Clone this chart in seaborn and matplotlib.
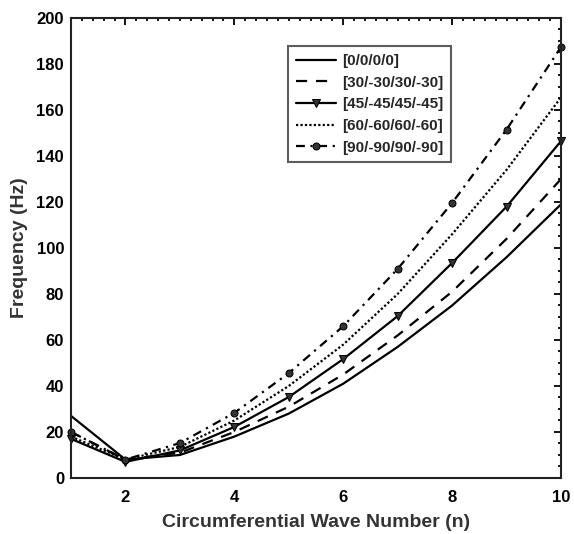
import matplotlib
matplotlib.use("Agg")
import matplotlib.pyplot as plt
import seaborn as sns
import pandas as pd
from matplotlib.ticker import MultipleLocator

n = [1, 2, 3, 4, 5, 6, 7, 8, 9, 10]
labels = ["[0/0/0/0]", "[30/-30/30/-30]", "[45/-45/45/-45]", "[60/-60/60/-60]", "[90/-90/90/-90]"]
f0 = [27, 8, 10, 18, 28, 41, 57, 75, 96, 119]
f30 = [20, 8, 11, 20, 31, 45, 62, 81, 104, 130]
f45 = [17, 7, 12, 22.2, 35.2, 51.7, 70.4, 93.5, 118, 146.5]
f60 = [18, 8, 13.5, 25, 40, 58, 80, 106, 134, 165.5]
f90 = [20, 8, 15.2, 28.3, 45.6, 66, 90.9, 119.6, 151.5, 187.4]

series = [f0, f30, f45, f60, f90]
styles = [
    dict(linestyle="-", marker=None),
    dict(linestyle=(0, (5, 4)), marker=None),
    dict(linestyle="-", marker="v", markersize=6),
    dict(linestyle=(0, (1, 1)), marker=None),
    dict(linestyle=(0, (4, 2.5, 1, 2.5)), marker="o", markersize=5),
]

sns.set_style("white")
plt.rcParams["font.family"] = ["Liberation Sans", "DejaVu Sans"]
plt.rcParams["font.weight"] = "bold"

fig = plt.figure(figsize=(5.74, 5.34), dpi=100)
ax = fig.add_axes([0.1237, 0.1049, 0.8537, 0.8614])

for lab, vals, st in zip(labels, series, styles):
    df = pd.DataFrame({"n": n, "f": vals})
    kw = dict(color="black", linewidth=1.6, linestyle=st["linestyle"], clip_on=False)
    if st["marker"]:
        kw.update(marker=st["marker"], markersize=st["markersize"],
                  markerfacecolor="#333333", markeredgecolor="black")
    sns.lineplot(data=df, x="n", y="f", ax=ax, label=lab, **kw)

ax.set_xlim(1, 10)
ax.set_ylim(0, 200)
ax.set_xticks([2, 4, 6, 8, 10])
ax.set_yticks(range(0, 201, 20))
ax.xaxis.set_minor_locator(MultipleLocator(0.2))
ax.yaxis.set_minor_locator(MultipleLocator(5))
ax.tick_params(which="both", direction="in", top=True, right=True, width=1.3, colors="black")
ax.tick_params(which="major", length=5, labelsize=12, pad=5)
ax.tick_params(axis="x", which="major", pad=9)
ax.tick_params(which="minor", length=2.5)
for lbl in ax.get_xticklabels() + ax.get_yticklabels():
    lbl.set_fontweight("bold")
for sp in ax.spines.values():
    sp.set_linewidth(1.5)
    sp.set_color("#222222")

ax.set_xlabel("Circumferential Wave Number (n)", fontsize=14, fontweight="bold",
              color="#333333", labelpad=6)
ax.set_ylabel("Frequency (Hz)", fontsize=14, fontweight="bold", color="#333333", labelpad=6)

leg = ax.legend(loc="upper left", bbox_to_anchor=(0.428, 0.955), frameon=True, fancybox=False,
                edgecolor="#333333", fontsize=11, handlelength=2.6, borderpad=0.5,
                labelspacing=0.5, handletextpad=0.4)
leg.get_frame().set_linewidth(1.5)
for t in leg.get_texts():
    t.set_fontweight("bold")

fig.savefig("out.png", dpi=100)
